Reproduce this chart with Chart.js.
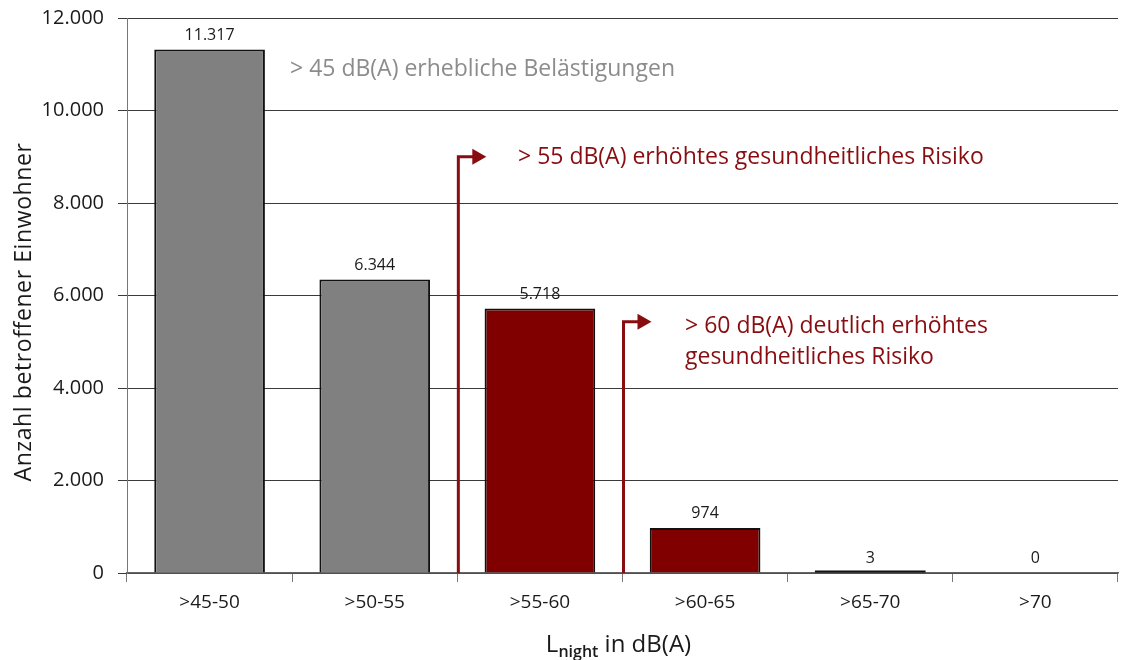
<!DOCTYPE html>
<html>
<head>
<meta charset="utf-8">
<script src="https://cdn.jsdelivr.net/npm/chart.js@4/dist/chart.umd.min.js"></script>
<style>
  html, body { margin: 0; padding: 0; background: #fff; }
  #wrap { width: 1123px; height: 660px; position: relative; }
</style>
</head>
<body>
<div id="wrap"><canvas id="noiseChart"></canvas></div>
<script>
const categories = ['>45-50', '>50-55', '>55-60', '>60-65', '>65-70', '>70'];
const residents = [11317, 6344, 5718, 974, 3, 0];
const barColors = ['#808080', '#808080', '#800000', '#800000', '#800000', '#800000'];
const yTicks = [0, 2000, 4000, 6000, 8000, 10000, 12000];

const FONT = "'Open Sans', sans-serif";
const RED = '#880d10';
const fmt = v => v.toLocaleString('de-DE');

// annotations: arrows sit on category boundaries, texts next to them
const arrows = [
    { between: [1, 2], top: 9000 },
    { between: [2, 3], top: 5430 }
];
const notes = [
    { lines: ['> 45 dB(A) erhebliche Belästigungen'], x: 290, y: 69, color: '#8c8c8c' },
    { lines: ['> 55 dB(A) erhöhtes gesundheitliches Risiko'], x: 518, y: 157, color: RED },
    { lines: ['> 60 dB(A) deutlich erhöhtes', 'gesundheitliches Risiko'], x: 685, y: 326, color: RED }
];

const overlay = {
    id: 'overlay',
    afterDatasetsDraw(chart) {
        const ctx = chart.ctx;
        const xs = chart.scales.x, ys = chart.scales.y;
        const meta = chart.getDatasetMeta(0);

        // very small bars (the "3") still show their outline as a flat line
        ctx.save();
        ctx.strokeStyle = '#111';
        ctx.lineWidth = 2;
        meta.data.forEach((bar, i) => {
            if (residents[i] > 0 && Math.abs(bar.base - bar.y) < 2) {
                ctx.beginPath();
                ctx.moveTo(bar.x - bar.width / 2, bar.base - 1);
                ctx.lineTo(bar.x + bar.width / 2, bar.base - 1);
                ctx.stroke();
            }
        });
        ctx.restore();

        // value labels above the bars
        ctx.save();
        ctx.font = '16px ' + FONT;
        ctx.fillStyle = '#1a1a1a';
        ctx.textAlign = 'center';
        ctx.textBaseline = 'alphabetic';
        meta.data.forEach((bar, i) => {
            ctx.fillText(fmt(residents[i]), bar.x, bar.y - 10);
        });
        ctx.restore();

        // arrows
        ctx.save();
        ctx.strokeStyle = RED;
        ctx.fillStyle = RED;
        ctx.lineWidth = 3;
        arrows.forEach(a => {
            const x = (xs.getPixelForValue(a.between[0]) + xs.getPixelForValue(a.between[1])) / 2 + 1;
            const yTop = ys.getPixelForValue(a.top);
            ctx.beginPath();
            ctx.moveTo(x, ys.getPixelForValue(0));
            ctx.lineTo(x, yTop);
            ctx.lineTo(x + 16, yTop);
            ctx.stroke();
            ctx.beginPath();
            ctx.moveTo(x + 14, yTop - 8);
            ctx.lineTo(x + 28, yTop);
            ctx.lineTo(x + 14, yTop + 8);
            ctx.closePath();
            ctx.fill();
        });
        ctx.restore();

        // annotation texts
        ctx.save();
        ctx.font = '23px ' + FONT;
        ctx.textAlign = 'left';
        ctx.textBaseline = 'middle';
        notes.forEach(n => {
            ctx.fillStyle = n.color;
            n.lines.forEach((line, k) => ctx.fillText(line, n.x, n.y + k * 31));
        });
        ctx.restore();

        // axis titles
        ctx.save();
        ctx.fillStyle = '#1a1a1a';
        ctx.translate(24, 312);
        ctx.rotate(-Math.PI / 2);
        ctx.font = '23px ' + FONT;
        ctx.letterSpacing = '0.6px';
        ctx.textAlign = 'center';
        ctx.textBaseline = 'middle';
        ctx.fillText('Anzahl betroffener Einwohner', 0, 0);
        ctx.restore();

        ctx.save();
        ctx.fillStyle = '#1a1a1a';
        ctx.textBaseline = 'alphabetic';
        ctx.textAlign = 'left';
        const parts = [
            { t: 'L', f: '24px ' + FONT, dy: 0 },
            { t: 'night', f: '600 16px ' + FONT, dy: 5 },
            { t: ' in dB(A)', f: '24px ' + FONT, dy: 0 }
        ];
        let total = 0;
        parts.forEach(p => { ctx.font = p.f; total += ctx.measureText(p.t).width; });
        let cx = (chart.chartArea.left + chart.chartArea.right) / 2 - total / 2 - 4;
        parts.forEach(p => {
            ctx.font = p.f;
            ctx.fillText(p.t, cx, 652 + p.dy);
            cx += ctx.measureText(p.t).width;
        });
        ctx.restore();
    }
};

new Chart(document.getElementById('noiseChart'), {
    type: 'bar',
    data: {
        labels: categories,
        datasets: [{
            data: residents,
            backgroundColor: barColors,
            borderColor: '#111',
            borderWidth: 2,
            barPercentage: 0.67,
            categoryPercentage: 1
        }]
    },
    options: {
        responsive: true,
        maintainAspectRatio: false,
        animation: false,
        layout: { padding: { top: 18, right: 5, left: 0, bottom: 0 } },
        plugins: {
            legend: { display: false },
            tooltip: { enabled: false }
        },
        scales: {
            x: {
                afterFit: s => { s.height = 87; s.paddingLeft = 0; s.paddingRight = 0; },
                border: { color: '#666', width: 1.5 },
                grid: { offset: true, drawOnChartArea: false, drawTicks: true, tickLength: 9, color: '#777' },
                ticks: { color: '#1a1a1a', padding: 9, font: { family: FONT, size: 19 } }
            },
            y: {
                min: 0,
                max: 12000,
                afterFit: s => { s.width = 127; s.paddingTop = 0; s.paddingBottom = 0; },
                afterBuildTicks: s => { s.ticks = yTicks.map(v => ({ value: v })); },
                border: { color: '#777', width: 1 },
                grid: { color: '#3a3a3a', lineWidth: 1, tickLength: 9 },
                ticks: {
                    color: '#1a1a1a',
                    padding: 14,
                    font: { family: FONT, size: 20 },
                    callback: v => fmt(v)
                }
            }
        }
    },
    plugins: [overlay]
});
</script>
</body>
</html>
